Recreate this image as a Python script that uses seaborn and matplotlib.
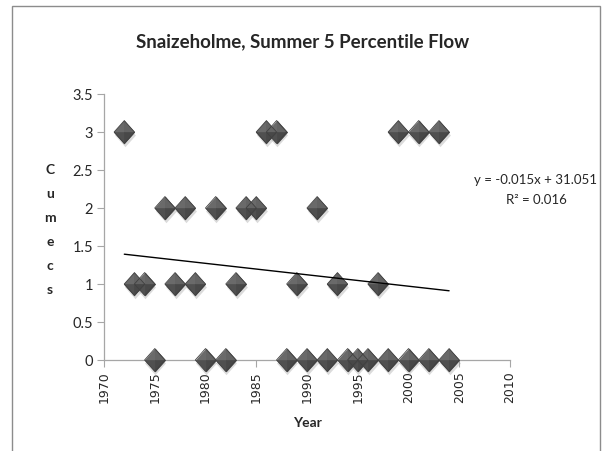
import numpy as np
import pandas as pd
import matplotlib
matplotlib.use("Agg")
import matplotlib.pyplot as plt
from matplotlib.patches import Rectangle
from matplotlib.transforms import ScaledTranslation
import seaborn as sns

# Summer 5-percentile flow at Snaizeholme (cumecs) by year
years = [1972, 1973, 1974, 1975, 1976, 1977, 1978, 1979, 1980, 1981, 1982,
         1983, 1984, 1985, 1986, 1987, 1988, 1989, 1990, 1991, 1992, 1993,
         1994, 1995, 1996, 1997, 1998, 1999, 2000, 2001, 2002, 2003, 2004]
flow = [3, 1, 1, 0, 2, 1, 2, 1, 0, 2, 0,
        1, 2, 2, 3, 3, 0, 1, 0, 2, 0, 1,
        0, 0, 0, 1, 0, 3, 0, 3, 0, 3, 0]
x_ticks = [1970, 1975, 1980, 1985, 1990, 1995, 2000, 2005, 2010]
y_ticks = [0, 0.5, 1, 1.5, 2, 2.5, 3, 3.5]
y_tick_labels = ["0", "0.5", "1", "1.5", "2", "2.5", "3", "3.5"]
title = "Snaizeholme, Summer 5 Percentile Flow"
equation = "y = -0.015x + 31.051"
r_squared = "R² = 0.016"

df = pd.DataFrame({"Year": years, "Cumecs": flow})

sns.set_style("white")
plt.rcParams["font.family"] = ["Lato", "DejaVu Sans"]

fig = plt.figure(figsize=(6.02, 4.51), dpi=100)
ax = fig.add_axes([104 / 602, 1 - 360 / 451, 406 / 602, 266 / 451])

# Bevelled diamond markers built from facets
H = 1.12
diamond = [(0, H), (1, 0), (0, -H), (-1, 0), (0, H)]
facets = [
    ([(0, 0), (-1, 0), (0, H), (0, 0)], "#6a6a6a"),
    ([(0, 0), (0, H), (1, 0), (0, 0)], "#636363"),
    ([(0, 0), (-1, 0), (0, -H), (0, 0)], "#505050"),
    ([(0, 0), (0, -H), (1, 0), (0, 0)], "#484848"),
]
msize = 270

# soft drop shadow
sns.scatterplot(data=df, x="Year", y="Cumecs", marker=diamond, s=msize * 1.05,
                color="#9a9a9a", alpha=0.35, linewidth=0, ax=ax,
                clip_on=False, zorder=3)
shadow = ax.collections[-1]
shadow.set_offset_transform(ax.transData + ScaledTranslation(0.5 / 72, -2 / 72, fig.dpi_scale_trans))

# solid base so facet seams do not show through
sns.scatterplot(data=df, x="Year", y="Cumecs", marker=diamond, s=msize,
                color="#555555", linewidth=0, ax=ax, clip_on=False, zorder=4)
for verts, col in facets:
    sns.scatterplot(data=df, x="Year", y="Cumecs", marker=verts, s=msize,
                    color=col, edgecolor=col, linewidth=0.4, ax=ax,
                    clip_on=False, zorder=4)
sns.scatterplot(data=df, x="Year", y="Cumecs", marker=diamond, s=msize,
                facecolor="none", edgecolor="#404040", linewidth=0.6, ax=ax,
                clip_on=False, zorder=5)

# Linear trend line
sns.regplot(data=df, x="Year", y="Cumecs", scatter=False, ci=None, truncate=True,
            color="black", line_kws={"linewidth": 1.0, "zorder": 6}, ax=ax)

ax.set_xlim(1970, 2010)
ax.set_ylim(0, 3.5)
ax.set_xticks(x_ticks)
ax.set_xticklabels([str(v) for v in x_ticks], rotation=90, family="DejaVu Sans",
                   fontsize=9)
ax.set_yticks(y_ticks)
ax.set_yticklabels(y_tick_labels, fontsize=10.5)
ax.tick_params(axis="both", direction="out", length=5, width=0.8,
               color="#a6a6a6", left=True, bottom=True, pad=3)
ax.set_xlabel("")
ax.set_ylabel("")
for side in ("top", "right"):
    ax.spines[side].set_visible(False)
for side in ("left", "bottom"):
    ax.spines[side].set_color("#a6a6a6")
    ax.spines[side].set_linewidth(0.9)

fig.text(303 / 602, 1 - 42 / 451, title, ha="center", va="center",
         fontsize=13.5, fontweight="bold")
fig.text(307 / 602, 1 - 423 / 451, "Year", ha="center", va="center",
         fontsize=10, fontweight="bold")
fig.text(50 / 602, 1 - 230 / 451, "C\nu\nm\ne\nc\ns", ha="center", va="center",
         multialignment="center", fontsize=10, fontweight="bold", linespacing=2.2)
fig.text(536 / 602, 1 - 180 / 451, equation, ha="center", va="center", fontsize=9.5)
fig.text(536 / 602, 1 - 200 / 451, r_squared, ha="center", va="center", fontsize=9.5)

# chart frame
fig.patches.append(Rectangle((12 / 602, -0.05), 588 / 602, 1.05 - 6 / 451,
                             transform=fig.transFigure, fill=False,
                             edgecolor="#8c8c8c", linewidth=1.0))

fig.savefig("out.png", dpi=100)
